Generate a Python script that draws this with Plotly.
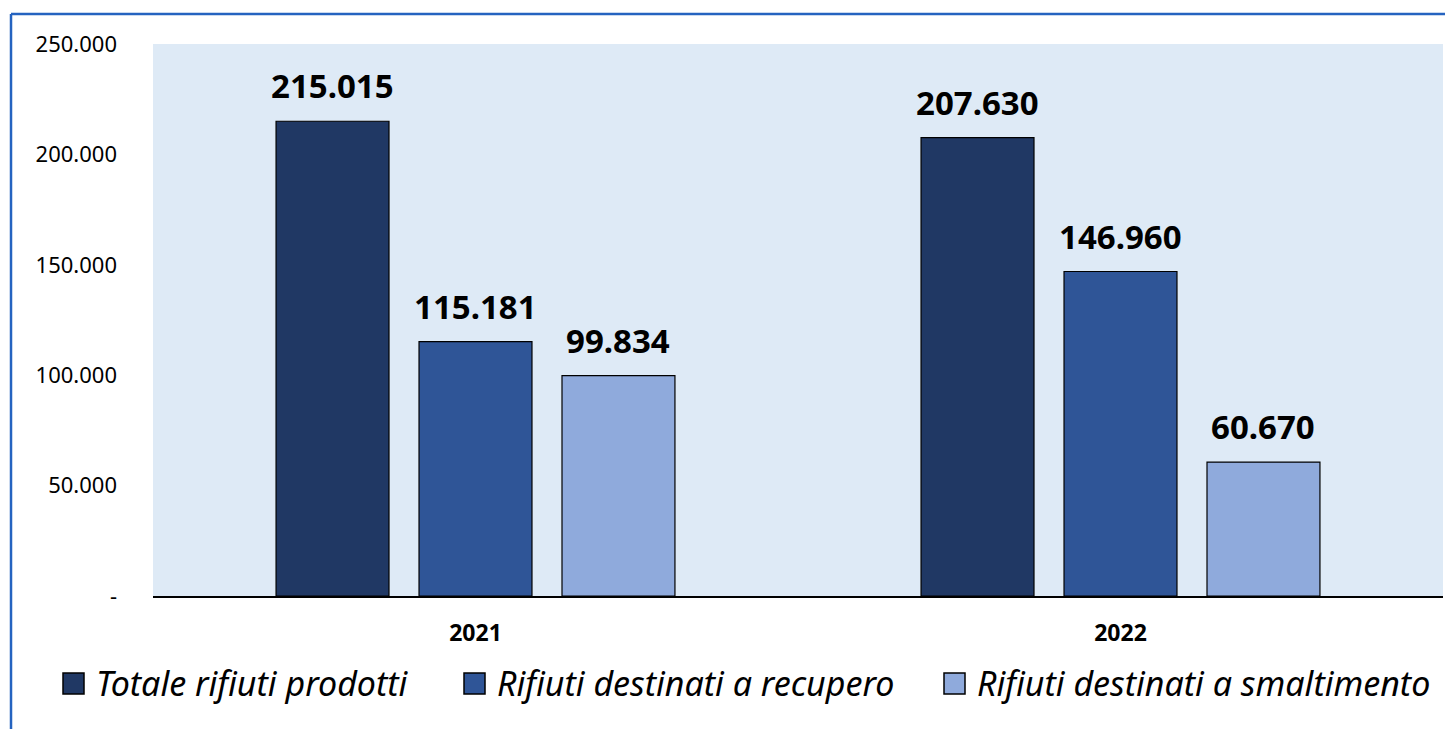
import plotly.graph_objects as go

years = ["2021", "2022"]
series_names = ["Totale rifiuti prodotti", "Rifiuti destinati a recupero", "Rifiuti destinati a smaltimento"]
totale = [215015, 207630]
recupero = [115181, 146960]
smaltimento = [99834, 60670]
colors = ["#203864", "#2F5597", "#8FAADC"]
tick_vals = [0, 50000, 100000, 150000, 200000, 250000]
tick_text = ["-", "50.000", "100.000", "150.000", "200.000", "250.000"]

# page has an 8px body margin; figure placed at (8, 8)
OFF = 8
W, H = 1453 - OFF, 729 - OFF
L, R, T, B = 153 - OFF, 10, 44 - OFF, 133
pw, ph = W - L - R, H - T - B
BARGAP = 0.335

fig = go.Figure()
all_vals = [totale, recupero, smaltimento]
for name, vals, col in zip(series_names, all_vals, colors):
    fig.add_trace(go.Bar(
        x=years, y=vals, name=name, showlegend=False,
        marker=dict(color=col, line=dict(color="#000000", width=1.2)),
    ))

# value labels above bars (grouped offset in category units)
slot = (1 - BARGAP) / len(series_names)
for i, vals in enumerate(all_vals):
    for j, v in enumerate(vals):
        fig.add_annotation(
            x=j + (i - 1) * slot, y=v, xref="x", yref="y",
            text=f"{v:,}".replace(",", "."),
            showarrow=False, yanchor="bottom", yshift=11,
            font=dict(family="Noto Sans", size=33, color="#000000", weight="bold"),
        )

def px_x(p):
    return (p - OFF - L) / pw

def px_y(p):
    return (H - B - (p - OFF)) / ph

border = "#2563C0"
fig.add_shape(type="line", xref="paper", yref="paper", x0=px_x(11), x1=px_x(1460),
              y0=px_y(14), y1=px_y(14), line=dict(color=border, width=2.5))
fig.add_shape(type="line", xref="paper", yref="paper", x0=px_x(11), x1=px_x(11),
              y0=px_y(14), y1=px_y(740), line=dict(color=border, width=2.5))

# custom legend (large square swatches like the reference)
legend_x = [63, 464, 944]
for name, col, lx in zip(series_names, colors, legend_x):
    fig.add_shape(type="rect", xref="paper", yref="paper",
                  x0=px_x(lx), x1=px_x(lx + 21), y0=px_y(673), y1=px_y(694),
                  fillcolor=col, line=dict(color="#000000", width=1.5))
    fig.add_annotation(x=px_x(lx + 31), y=px_y(683), xref="paper", yref="paper",
                       text=name, showarrow=False, xanchor="left", yanchor="middle",
                       font=dict(family="Noto Sans", size=34, style="italic", color="#000000"))

fig.update_layout(
    width=W, height=H,
    margin=dict(l=L, r=R, t=T, b=B),
    paper_bgcolor="#FFFFFF",
    plot_bgcolor="#DEEAF6",
    separators=",.",
    barmode="group",
    bargap=BARGAP,
    bargroupgap=0.21,
    font=dict(family="Noto Sans", color="#000000"),
    showlegend=False,
)
fig.update_xaxes(type="category", range=[-0.5, len(years) - 0.5], showgrid=False,
                 showline=True, linecolor="#000000", linewidth=1.5,
                 ticks="", tickfont=dict(size=23, weight="bold", color="#000000"),
                 ticklabelstandoff=16)
fig.update_yaxes(range=[0, 250000], tickvals=tick_vals, ticktext=tick_text,
                 showgrid=False, zeroline=False, showline=False, ticks="",
                 tickfont=dict(size=22, color="#000000"),
                 ticklabelstandoff=35)

fig.write_html("out.html")
